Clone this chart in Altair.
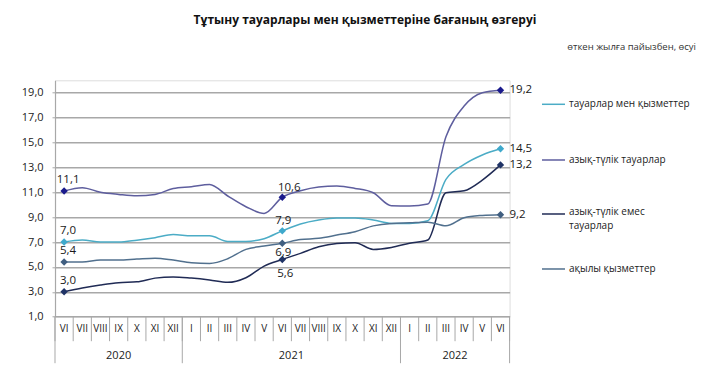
import altair as alt
import pandas as pd

# ---------------- data ----------------
months = ["VI", "VII", "VIII", "IX", "X", "XI", "XII",
          "I", "II", "III", "IV", "V", "VI", "VII", "VIII", "IX", "X", "XI", "XII",
          "I", "II", "III", "IV", "V", "VI"]
years = ["2020", "2021", "2022"]
year_first = [0, 7, 19]
year_last = [6, 18, 24]

series_names = ["тауарлар мен қызметтер", "азық-түлік тауарлар",
                "азық-түлік емес тауарлар", "ақылы қызметтер"]

goods_services = [7.0, 7.16, 7.0, 7.0, 7.15, 7.35, 7.6, 7.5, 7.5, 7.05, 7.05, 7.27,
                  7.9, 8.45, 8.77, 8.93, 8.93, 8.77, 8.5, 8.5, 8.71, 12.04, 13.24, 14.0, 14.5]
food = [11.1, 11.37, 11.0, 10.83, 10.72, 10.83, 11.3, 11.45, 11.63, 10.7, 9.84, 9.3,
        10.6, 11.12, 11.42, 11.5, 11.31, 10.96, 9.92, 9.9, 10.05, 15.46, 17.93, 19.0, 19.2]
non_food = [3.0, 3.3, 3.54, 3.73, 3.8, 4.1, 4.2, 4.1, 3.95, 3.76, 4.13, 5.07,
            5.6, 6.09, 6.62, 6.89, 6.95, 6.41, 6.57, 6.9, 7.16, 10.96, 11.12, 11.98, 13.2]
services = [5.4, 5.4, 5.55, 5.55, 5.63, 5.7, 5.55, 5.34, 5.28, 5.66, 6.41, 6.68,
            6.9, 7.2, 7.3, 7.56, 7.83, 8.3, 8.5, 8.55, 8.6, 8.3, 8.95, 9.14, 9.2]

y_ticks = [1, 3, 5, 7, 9, 11, 13, 15, 17, 19]
marked_idx = [0, 12, 24]

# ---------------- styles ----------------
line_colors = {"тауарлар мен қызметтер": "#4BACC6",
               "азық-түлік тауарлар": "#5E5E9E",
               "азық-түлік емес тауарлар": "#202B55",
               "ақылы қызметтер": "#51708E"}
marker_colors = {"тауарлар мен қызметтер": "#3FA9CC",
                 "азық-түлік тауарлар": "#1A1A8C",
                 "азық-түлік емес тауарлар": "#1F3366",
                 "ақылы қызметтер": "#405E80"}
FONT = "Open Sans"
GRID = "#A8A8A8"
W, H = 454.6, 236.4

all_series = [goods_services, food, non_food, services]
rows = []
for name, vals in zip(series_names, all_series):
    for i, v in enumerate(vals):
        rows.append({"i": i, "v": v, "s": name,
                     "lc": line_colors[name], "mc": marker_colors[name],
                     "lbl": f"{v:.1f}".replace(".", ",")})
df = pd.DataFrame(rows)
df_marks = df[df["i"].isin(marked_idx)]

xscale = alt.Scale(domain=[-0.5, 24.5], nice=False, zero=False)
yscale = alt.Scale(domain=[1, 20], nice=False, zero=False)
yaxis = alt.Axis(values=y_ticks, title=None, grid=True, gridColor=GRID, gridWidth=1.6,
                 domainColor=GRID, domainWidth=1.2, tickColor=GRID, tickSize=3,
                 labelPadding=9, labelFont=FONT, labelFontSize=11, labelColor="#222",
                 labelExpr="replace(format(datum.value, '.1f'), '.', ',')")
X = alt.X("i:Q", scale=xscale, axis=None)
Y = alt.Y("v:Q", scale=yscale, axis=yaxis)

lines = alt.Chart(df).mark_line(interpolate="monotone", strokeWidth=1.5).encode(
    x=X, y=Y, color=alt.Color("lc:N", scale=None), detail="s:N")
points = alt.Chart(df_marks).mark_point(shape="diamond", filled=True, size=55, opacity=1).encode(
    x=X, y=Y, color=alt.Color("mc:N", scale=None))

label_specs = [
    (0, None, "center", 4, -11),
    (12, series_names[1], "center", 7, -9),
    (12, series_names[0], "center", 1, -10),
    (12, series_names[3], "center", 1, 10),
    (12, series_names[2], "center", 3, 15),
    (24, None, "left", 9, 0),
]
label_layers = []
for idx, sname, align, dx, dy in label_specs:
    sub = df[df["i"] == idx]
    if sname is not None:
        sub = sub[sub["s"] == sname]
    label_layers.append(
        alt.Chart(sub).mark_text(align=align, baseline="middle", dx=dx, dy=dy,
                                 font=FONT, fontSize=11.5, color="#1A1A1A").encode(
            x=X, y=Y, text="lbl:N"))

# ---- category axis (months / years) ----
df_months = pd.DataFrame({"i": list(range(len(months))), "m": months})
df_msep = pd.DataFrame({"i": [k - 0.5 for k in range(len(months) + 1)]})
df_ysep = pd.DataFrame({"i": [year_first[0] - 0.5] + [e + 0.5 for e in year_last]})
df_years = pd.DataFrame({"i": [(a + b) / 2 for a, b in zip(year_first, year_last)], "y": years})

msep = alt.Chart(df_msep).mark_rule(color=GRID, strokeWidth=1).encode(
    x=X, y=alt.value(H), y2=alt.value(H + 24.5))
ysep = alt.Chart(df_ysep).mark_rule(color=GRID, strokeWidth=1).encode(
    x=X, y=alt.value(H), y2=alt.value(H + 46.5))
mlabels = alt.Chart(df_months).mark_text(font=FONT, fontSize=10, color="#222",
                                         baseline="middle").encode(
    x=X, y=alt.value(H + 12.5), text="m:N")
ylabels = alt.Chart(df_years).mark_text(font=FONT, fontSize=11, color="#222",
                                        baseline="middle").encode(
    x=X, y=alt.value(H + 39.5), text="y:N")

# ---- legend ----
legend_y = [24, 79.7, 133.7, 188.7]
legend_layers = []
for name, ly in zip(series_names, legend_y):
    dfl = pd.DataFrame({"t": [name]})
    legend_layers.append(alt.Chart(dfl).mark_rule(color=line_colors[name], strokeWidth=1.5).encode(
        x=alt.value(487), x2=alt.value(510), y=alt.value(ly)))
    if name == "азық-түлік емес тауарлар":
        txt = ["азық-түлік емес", "тауарлар"]
        legend_layers.append(alt.Chart(dfl).mark_text(
            text=txt, align="left", baseline="top", lineHeight=14.5,
            font=FONT, fontSize=10, color="#222").encode(
            x=alt.value(514), y=alt.value(ly - 7)))
    else:
        legend_layers.append(alt.Chart(dfl).mark_text(
            text=name, align="left", baseline="middle",
            font=FONT, fontSize=10, color="#222").encode(
            x=alt.value(514), y=alt.value(ly)))

# ---- titles ----
dft = pd.DataFrame({"t": ["title"]})
title = alt.Chart(dft).mark_text(
    text="Тұтыну тауарлары мен қызметтеріне бағаның өзгеруі",
    align="center", baseline="middle", font=FONT, fontSize=12, fontWeight="bold",
    color="#111").encode(x=alt.value(310), y=alt.value(-60))
subtitle = alt.Chart(dft).mark_text(
    text="өткен жылға пайызбен, өсуі", align="right", baseline="middle",
    font=FONT, fontSize=9.5, color="#333").encode(x=alt.value(641), y=alt.value(-33))

chart = alt.layer(
    msep, ysep, mlabels, ylabels, lines, points, *label_layers, *legend_layers, title, subtitle
).properties(
    width=W, height=H,
    autosize=alt.AutoSizeParams(type="none"),
    padding={"left": 47, "top": 72.3, "right": 192, "bottom": 66},
).configure_view(stroke=None).configure(background="white")

chart.save("out.html", embed_options={"renderer": "svg", "actions": False})
